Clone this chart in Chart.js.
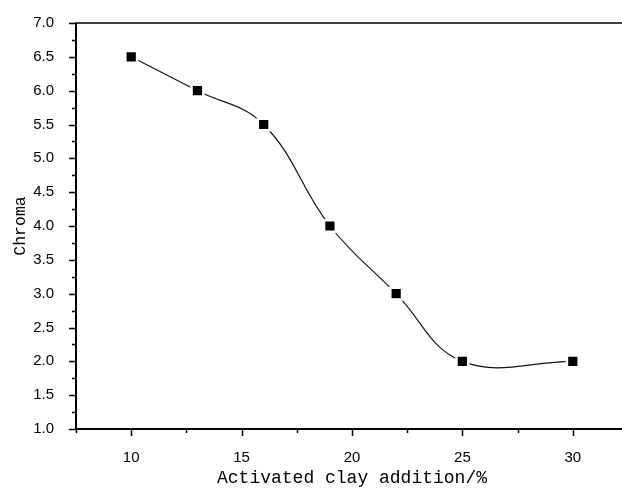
<!DOCTYPE html>
<html>
<head>
<meta charset="utf-8">
<script src="https://cdn.jsdelivr.net/npm/chart.js@4.4.1/dist/chart.umd.min.js"></script>
<style>
  html, body { margin: 0; padding: 0; background: #fff; overflow: hidden; }
  #wrap { width: 622px; height: 489px; overflow: hidden; }
  canvas { display: block; }
</style>
</head>
<body>
<div id="wrap"><canvas id="chromaChart" width="640" height="489"></canvas></div>
<script>
const clayAddition = [10, 13, 16, 19, 22, 25, 30];
const chroma = [6.5, 6.0, 5.5, 4.0, 3.0, 2.0, 2.0];
const xRange = [7.5, 32.5];
const yRange = [1.0, 7.0];

// outward ticks, long on labelled values, short in between
const tickMarks = {
    id: 'tickMarks',
    afterDraw(chart) {
        const ctx = chart.ctx;
        const area = chart.chartArea;
        const x = chart.scales.x;
        const y = chart.scales.y;
        ctx.save();
        ctx.strokeStyle = '#000';
        ctx.lineWidth = 1.5;
        ctx.beginPath();
        x.ticks.forEach(t => {
            const px = Math.round(x.getPixelForValue(t.value)) + 0.5;
            const len = (Math.abs(t.value % 5) < 1e-6) ? 7 : 4;
            ctx.moveTo(px, area.bottom);
            ctx.lineTo(px, area.bottom + len);
        });
        y.ticks.forEach(t => {
            const py = Math.round(y.getPixelForValue(t.value)) + 0.5;
            const len = (Math.abs((t.value * 2) % 1) < 1e-6) ? 7 : 4;
            ctx.moveTo(area.left, py);
            ctx.lineTo(area.left - len, py);
        });
        ctx.stroke();
        // frame
        ctx.lineWidth = 1.5;
        ctx.strokeRect(area.left, area.top, area.right - area.left, area.bottom - area.top);
        ctx.lineWidth = 2;
        ctx.beginPath();
        ctx.moveTo(area.left, area.top);
        ctx.lineTo(area.left, area.bottom);
        ctx.lineTo(area.right, area.bottom);
        ctx.stroke();
        ctx.restore();
    }
};

const ctxChroma = document.getElementById('chromaChart').getContext('2d');
new Chart(ctxChroma, {
    type: 'line',
    data: {
        datasets: [{
            data: clayAddition.map((v, i) => ({ x: v, y: chroma[i] })),
            borderColor: '#111',
            borderWidth: 1.2,
            tension: 0.4,
            fill: false,
            pointStyle: 'rect',
            pointRadius: 8.3,
            pointBackgroundColor: '#000',
            pointBorderColor: '#fff',
            pointBorderWidth: 2.5,
            clip: false
        }]
    },
    options: {
        responsive: false,
        animation: false,
        devicePixelRatio: 1,
        layout: { padding: { left: 0, top: 17, right: 9, bottom: 0 } },
        plugins: {
            legend: { display: false },
            tooltip: { enabled: false }
        },
        scales: {
            x: {
                type: 'linear',
                min: xRange[0],
                max: xRange[1],
                grid: { display: false },
                border: { display: false },
                ticks: {
                    stepSize: 2.5,
                    autoSkip: false,
                    maxRotation: 0,
                    padding: 12,
                    color: '#000',
                    font: { family: '"Liberation Sans", Arial, sans-serif', size: 15 },
                    callback: v => (Math.abs(v % 5) < 1e-6 ? String(v) : '')
                },
                title: {
                    display: true,
                    text: 'Activated clay addition/%',
                    color: '#000',
                    padding: { top: 0, bottom: 0 },
                    font: { family: '"Liberation Mono", monospace', size: 18 }
                },
                afterFit: scale => { scale.height = 60; }
            },
            y: {
                min: yRange[0],
                max: yRange[1],
                grid: { display: false },
                border: { display: false },
                ticks: {
                    stepSize: 0.25,
                    autoSkip: false,
                    padding: 14,
                    color: '#000',
                    font: { family: '"Liberation Sans", Arial, sans-serif', size: 15 },
                    callback: v => (Math.abs((v * 2) % 1) < 1e-6 ? v.toFixed(1) : '')
                },
                title: {
                    display: true,
                    text: 'Chroma',
                    color: '#000',
                    padding: { top: 11, bottom: 0 },
                    font: { family: '"Liberation Mono", monospace', size: 16.5 }
                },
                afterFit: scale => { scale.width = 76; }
            }
        }
    },
    plugins: [tickMarks]
});
</script>
</body>
</html>
